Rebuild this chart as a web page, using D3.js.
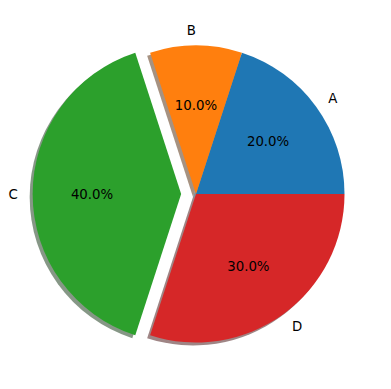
<!DOCTYPE html>
<html>
  <head>
    <style>
      body {margin: 0; background: #fff;}
      * {font-family: "DejaVu Sans", sans-serif;}
    </style>
    <script src="https://d3js.org/d3.v7.min.js"></script>
  </head>
  <body>
    <div id="chart"></div>
    <script>
      const labels = ["A", "B", "C", "D"]
      const values = [20, 10, 40, 30]
      const explode = [0, 0, 0.1, 0]
      const colors = ["#1f77b4", "#ff7f0e", "#2ca02c", "#d62728"]

      var w = 391, h = 389
      var cx = 196, cy = 194, r = 148.5

      var svg = d3.select("#chart")
        .append("svg")
        .attr("width", w)
        .attr("height", h)

      // matplotlib goes counterclockwise from 3 o'clock
      var pie = d3.pie()
        .sort(null)
        .startAngle(Math.PI / 2)
        .endAngle(Math.PI / 2 - 2 * Math.PI)

      var arcs = pie(values).map(function(d, i) {
        var mid = (d.startAngle + d.endAngle) / 2
        var off = explode[i] * r
        return {
          arc: d, i: i, mid: mid,
          x: cx + Math.sin(mid) * off,
          y: cy - Math.cos(mid) * off
        }
      })

      var arc = d3.arc().innerRadius(0).outerRadius(r)
      var total = d3.sum(values)

      // shadows first, under all wedges
      svg.selectAll(".shadow")
        .data(arcs)
        .enter()
        .append("path")
        .attr("class", "shadow")
        .attr("transform", d => "translate(" + (d.x - 0.02 * r) + "," + (d.y + 0.02 * r) + ")")
        .attr("d", d => arc(d.arc))
        .style("fill", function(d) {
          var c = d3.rgb(colors[d.i])
          return d3.rgb(c.r * 0.3, c.g * 0.3, c.b * 0.3)
        })
        .style("fill-opacity", 0.5)

      svg.selectAll(".wedge")
        .data(arcs)
        .enter()
        .append("path")
        .attr("class", "wedge")
        .attr("transform", d => "translate(" + d.x + "," + d.y + ")")
        .attr("d", d => arc(d.arc))
        .style("fill", d => colors[d.i])

      // outer labels
      svg.selectAll(".label")
        .data(arcs)
        .enter()
        .append("text")
        .attr("class", "label")
        .attr("x", d => d.x + Math.sin(d.mid) * 1.1 * r)
        .attr("y", d => d.y - Math.cos(d.mid) * 1.1 * r)
        .attr("dy", "0.35em")
        .attr("text-anchor", d => Math.sin(d.mid) > 1e-9 ? "start" : "end")
        .style("font-size", "13.33px")
        .text(d => labels[d.i])

      // percent labels
      svg.selectAll(".pct")
        .data(arcs)
        .enter()
        .append("text")
        .attr("class", "pct")
        .attr("x", d => d.x + Math.sin(d.mid) * 0.6 * r)
        .attr("y", d => d.y - Math.cos(d.mid) * 0.6 * r)
        .attr("dy", "0.35em")
        .attr("text-anchor", "middle")
        .style("font-size", "13.33px")
        .text(d => (values[d.i] / total * 100).toFixed(1) + "%")
    </script>
  </body>
</html>
